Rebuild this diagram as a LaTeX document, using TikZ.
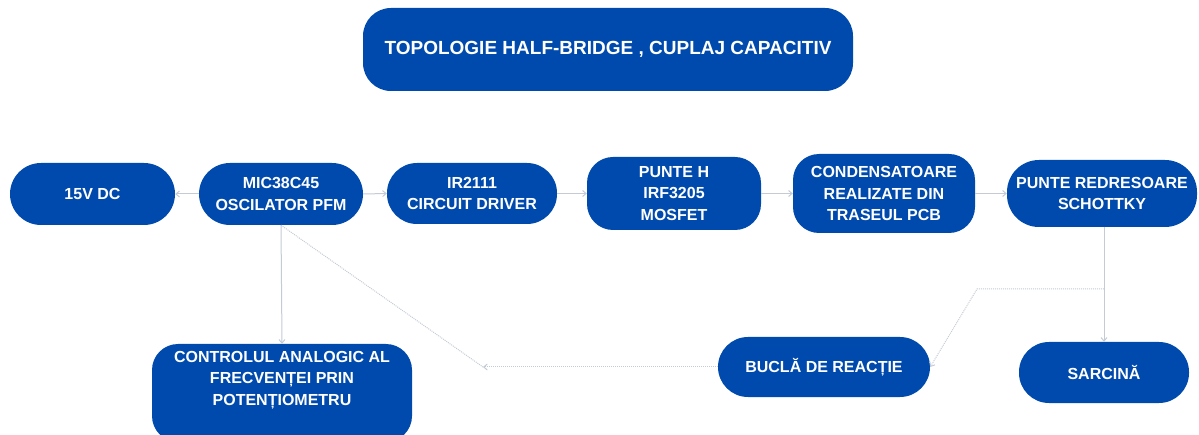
\documentclass[tikz,border=0pt]{standalone}
\usepackage{fontspec}
\setmainfont{Liberation Sans}
\usetikzlibrary{arrows.meta}
\definecolor{myblue}{RGB}{0,74,173}
\definecolor{lineg}{RGB}{196,203,212}
\tikzset{
  box/.style={rectangle, fill=myblue, text=white, align=center, inner sep=0pt,
    font=\bfseries\fontsize{16}{21.8}\selectfont},
  txt/.style={text=white, align=center, inner sep=0pt,
    font=\bfseries\fontsize{16}{21.8}\selectfont},
  conn/.style={draw=lineg, line width=1pt, -{Straight Barb[length=3.5pt,width=6pt]}},
  dotconn/.style={draw=lineg, line width=1pt, densely dotted},
}
\begin{document}
\begin{tikzpicture}[x=1pt,y=-1pt]
\useasboundingbox (0,0) rectangle (1199,435);
\clip (0,0) rectangle (1199,435);
\node[box, minimum width=490pt, minimum height=83pt, rounded corners=28pt,
  font=\bfseries\fontsize{19}{22}\selectfont] (title) at (608,49.5) {TOPOLOGIE HALF-BRIDGE , CUPLAJ CAPACITIV};
\node[box, minimum width=165pt, minimum height=62pt, rounded corners=31pt] (dc) at (92.5,194) {15V DC};
\node[box, minimum width=164pt, minimum height=62pt, rounded corners=31pt] (mic) at (281,194) {MIC38C45\\OSCILATOR PFM};
\node[box, minimum width=170pt, minimum height=61pt, rounded corners=30pt] (ir) at (472,193.5) {IR2111\\CIRCUIT DRIVER};
\node[box, minimum width=174pt, minimum height=73pt, rounded corners=26pt] (ph) at (674,193.5) {PUNTE H\\IRF3205\\MOSFET};
\node[box, minimum width=182pt, minimum height=79pt, rounded corners=26pt] (cond) at (884,193.5) {CONDENSATOARE\\REALIZATE DIN\\TRASEUL PCB};
\node[box, minimum width=190pt, minimum height=67pt, rounded corners=32pt] (prs) at (1102,193.5) {PUNTE REDRESOARE\\SCHOTTKY};
\node[box, minimum width=260pt, minimum height=98pt, rounded corners=26pt] (ctrl) at (282,393) {};
\node[txt] (ctrltxt) at (282,380) {CONTROLUL ANALOGIC AL\\FRECVENȚEI PRIN\\POTENȚIOMETRU};
\node[box, minimum width=212pt, minimum height=60pt, rounded corners=30pt] (bucla) at (824,367) {BUCLĂ DE REACȚIE};
\node[box, minimum width=170pt, minimum height=61pt, rounded corners=30pt] (sarc) at (1104,372.5) {SARCINĂ};

\coordinate (fbend) at (483,367);
\coordinate (prsb) at (1104,227);
\coordinate (fbstart) at (1104,289);
\coordinate (fbcorner) at (977,289);

\draw[conn] (mic.west) -- (dc.east);
\draw[conn] (mic.east) -- (ir.west);
\draw[conn] (ir.east) -- (ph.west);
\draw[conn] (ph.east) -- (cond.west);
\draw[conn] (cond.east) -- (prs.west);
\draw[conn] (mic.south) -- (ctrl.north);
\draw[conn] (prsb) -- (sarc.north);
\draw[dotconn] (mic.south) -- (fbend);
\draw[dotconn, -{Straight Barb[length=3.5pt,width=6pt]}] (bucla.west) -- (fbend);
\draw[dotconn, -{Straight Barb[length=3.5pt,width=6pt]}] (fbstart) -- (fbcorner) -- (bucla.east);
\end{tikzpicture}
\end{document}
